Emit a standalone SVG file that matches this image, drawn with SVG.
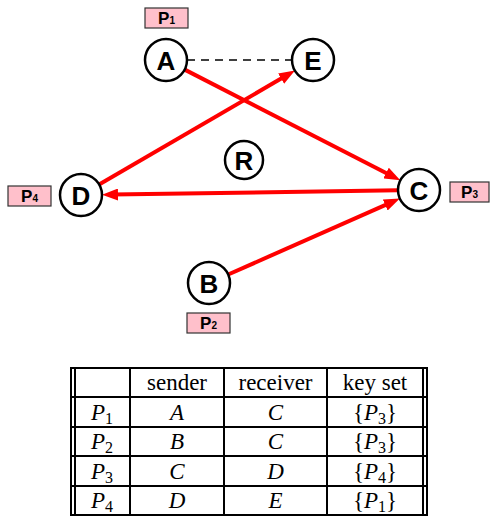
<svg xmlns="http://www.w3.org/2000/svg" width="490" height="517" viewBox="0 0 490 517">
<style>
.node circle{fill:#fff;stroke:#000;stroke-width:2.5}
.node text{font-family:"Liberation Sans",Arial,sans-serif;font-weight:bold;font-size:26px;text-anchor:middle;fill:#000}
.lbl rect{fill:#ffc0cb;stroke:#333;stroke-width:1.2}
.lbl text{font-family:"Liberation Sans",Arial,sans-serif;font-weight:bold;font-size:17px;text-anchor:middle;fill:#000}
.edge{stroke:#f00;stroke-width:4;fill:none;marker-end:url(#ah)}
.tbl line{stroke:#000;stroke-width:2}
.tbl text{font-family:"Liberation Serif","Times New Roman",serif;font-size:23px;text-anchor:middle;fill:#000}
.it{font-style:italic}
.sub{font-size:16px}
</style>
<defs>
<marker id="ah" markerUnits="userSpaceOnUse" markerWidth="16" markerHeight="12" refX="6" refY="6" orient="auto">
<path d="M0,0 L16,6 L0,12 z" fill="#f00"/>
</marker>
</defs>
<g id="connectors">
<line x1="187" y1="60" x2="292" y2="60" stroke="#000" stroke-width="1.5" stroke-dasharray="8,6"/>
<line class="edge" x1="184.7" y1="69.6" x2="391.4" y2="175.8"/>
<line class="edge" x1="99.1" y1="184.4" x2="286.3" y2="75.6"/>
<line class="edge" x1="398" y1="190.3" x2="112" y2="194.6"/>
<line class="edge" x1="228.2" y1="274.5" x2="390.7" y2="202.6"/>
</g>
<g id="node-A" class="node"><circle cx="166" cy="60" r="21"/><text x="166" y="69.5">A</text></g>
<g id="node-E" class="node"><circle cx="313" cy="60" r="21"/><text x="313" y="69.5">E</text></g>
<g id="node-D" class="node"><circle cx="81" cy="195" r="21"/><text x="81" y="204.5">D</text></g>
<g id="node-C" class="node"><circle cx="419" cy="190" r="21"/><text x="419" y="199.5">C</text></g>
<g id="node-B" class="node"><circle cx="209" cy="283" r="21"/><text x="209" y="292.5">B</text></g>
<g id="node-R" class="node"><circle cx="244" cy="160" r="19"/><text x="244" y="169.5">R</text></g>
<g id="label-P1" class="lbl"><rect x="145" y="8" width="43" height="20"/><text x="166.5" y="24">P<tspan font-size="10">1</tspan></text></g>
<g id="label-P2" class="lbl"><rect x="187" y="313" width="43" height="20"/><text x="208.5" y="329">P<tspan font-size="10">2</tspan></text></g>
<g id="label-P3" class="lbl"><rect x="450" y="182" width="39" height="20"/><text x="469.5" y="198">P<tspan font-size="10">3</tspan></text></g>
<g id="label-P4" class="lbl"><rect x="8" y="186" width="43" height="20"/><text x="29.5" y="202">P<tspan font-size="10">4</tspan></text></g>
<g id="table" class="tbl">
<line x1="70" y1="368" x2="428" y2="368"/>
<line x1="70" y1="397" x2="428" y2="397"/>
<line x1="70" y1="427" x2="428" y2="427"/>
<line x1="70" y1="456" x2="428" y2="456"/>
<line x1="70" y1="486" x2="428" y2="486"/>
<line x1="70" y1="515" x2="428" y2="515"/>
<line x1="71" y1="368" x2="71" y2="515"/>
<line x1="75" y1="368" x2="75" y2="515"/>
<line x1="130" y1="368" x2="130" y2="515"/>
<line x1="224" y1="368" x2="224" y2="515"/>
<line x1="327" y1="368" x2="327" y2="515"/>
<line x1="423" y1="368" x2="423" y2="515"/>
<line x1="427" y1="368" x2="427" y2="515"/>
<text x="177" y="390">sender</text>
<text x="275.5" y="390">receiver</text>
<text x="375" y="390">key set</text>
<text x="102" y="420"><tspan class="it">P</tspan><tspan class="sub" dy="4">1</tspan></text>
<text x="177" y="420" class="it">A</text>
<text x="275.5" y="420" class="it">C</text>
<text x="375" y="420">{<tspan class="it">P</tspan><tspan class="sub" dy="4">3</tspan><tspan dy="-4">}</tspan></text>
<text x="102" y="449"><tspan class="it">P</tspan><tspan class="sub" dy="4">2</tspan></text>
<text x="177" y="449" class="it">B</text>
<text x="275.5" y="449" class="it">C</text>
<text x="375" y="449">{<tspan class="it">P</tspan><tspan class="sub" dy="4">3</tspan><tspan dy="-4">}</tspan></text>
<text x="102" y="479"><tspan class="it">P</tspan><tspan class="sub" dy="4">3</tspan></text>
<text x="177" y="479" class="it">C</text>
<text x="275.5" y="479" class="it">D</text>
<text x="375" y="479">{<tspan class="it">P</tspan><tspan class="sub" dy="4">4</tspan><tspan dy="-4">}</tspan></text>
<text x="102" y="508"><tspan class="it">P</tspan><tspan class="sub" dy="4">4</tspan></text>
<text x="177" y="508" class="it">D</text>
<text x="275.5" y="508" class="it">E</text>
<text x="375" y="508">{<tspan class="it">P</tspan><tspan class="sub" dy="4">1</tspan><tspan dy="-4">}</tspan></text>
</g>
</svg>
